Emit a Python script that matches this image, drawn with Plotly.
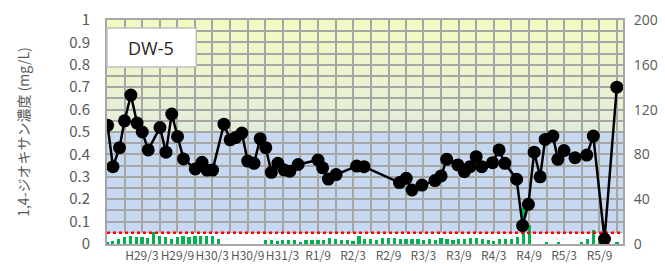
import plotly.graph_objects as go
import pandas as pd

# ---- data ----
conc_dates = [
    "2016-09-04", "2016-10-02", "2016-11-05", "2016-12-01", "2017-01-03", "2017-02-04",
    "2017-03-03", "2017-04-03", "2017-06-03", "2017-07-04", "2017-08-03", "2017-09-02",
    "2017-10-03", "2017-12-03", "2018-01-07", "2018-02-02", "2018-03-03", "2018-05-01",
    "2018-06-02", "2018-07-01", "2018-08-02", "2018-09-01", "2018-10-04", "2018-11-05",
    "2018-12-04", "2019-01-02", "2019-02-05", "2019-03-10", "2019-04-08", "2019-05-21",
    "2019-09-01", "2019-09-25", "2019-10-25", "2019-12-04", "2020-03-20", "2020-04-27",
    "2020-10-28", "2020-12-02", "2021-01-01", "2021-02-22", "2021-04-30", "2021-06-01",
    "2021-06-30", "2021-08-27", "2021-09-30", "2021-10-29", "2021-11-30", "2021-12-29",
    "2022-02-23", "2022-03-29", "2022-04-28", "2022-06-28", "2022-07-29", "2022-08-28",
    "2022-09-27", "2022-10-28", "2022-11-23", "2023-01-02", "2023-01-28", "2023-03-01",
    "2023-04-27", "2023-06-27", "2023-07-31", "2023-09-27", "2023-11-30",
]
conc_values = [
    0.53, 0.345, 0.43, 0.55, 0.665, 0.54,
    0.50, 0.42, 0.52, 0.41, 0.58, 0.48,
    0.38, 0.335, 0.365, 0.33, 0.33, 0.535,
    0.465, 0.475, 0.495, 0.37, 0.36, 0.47,
    0.43, 0.32, 0.36, 0.33, 0.325, 0.355,
    0.375, 0.34, 0.29, 0.31, 0.348, 0.345,
    0.274, 0.293, 0.241, 0.263, 0.283, 0.304,
    0.378, 0.353, 0.323, 0.345, 0.39, 0.345,
    0.363, 0.42, 0.36, 0.289, 0.082, 0.177,
    0.41, 0.30, 0.467, 0.482, 0.378, 0.417,
    0.385, 0.397, 0.482, 0.022, 0.70,
]

bar_start = "2016-09-01"
bar_values = [
    1.8, 2.7, 4.2, 6.3, 7.1, 6.3, 6.3, 5.0, 10.7, 7.1, 6.3, 4.8, 6.3, 7.1, 6.3, 7.1, 7.1, 7.1, 7.1, 4.2,
    None, None, None, None, None, None, None,
    3.3, 3.3, 2.4, 3.3, 3.3, 3.3, 1.2, 3.3, 3.3, 3.3, 3.3, 5.4, 4.2, 3.3, 3.3,
    2.8,
    7.1, 4.8, 4.2, 3.3, 5.4, 5.4, 5.4, 4.2, 4.2, 4.2, 4.2, 3.3, 4.8, 3.3, 5.4, 4.2, 3.3, 4.8, 4.8, 5.4,
    5.2, 4.5, 3.6, 2.7, 4.8, 4.5, 4.5, 6.5, 32, 17,
    None, None, 1.2, None, 1.2, None, None, None, 1.8, 4.5, 12.5, 3, None, None, 1,
]
bar_dates = pd.date_range(bar_start, periods=len(bar_values), freq="MS")

guide_value = 0.05
x_tickvals = ["2017-03-01", "2017-09-01", "2018-03-01", "2018-09-01", "2019-03-01", "2019-09-01",
              "2020-03-01", "2020-09-01", "2021-03-01", "2021-09-01", "2022-03-01", "2022-09-01",
              "2023-03-01", "2023-09-01"]
x_ticktext = ["H29/3", "H29/9", "H30/3", "H30/9", "H31/3", "R1/9", "R2/3", "R2/9",
              "R3/3", "R3/9", "R4/3", "R4/9", "R5/3", "R5/9"]
x_range = ["2016-09-01", "2024-01-01"]

grey = "#595959"
grid = "#A6A6A6"

fig = go.Figure()

# white band under the guide line (covers gridlines, under bars) - right-axis units
fig.add_trace(go.Scatter(
    x=x_range, y=[10, 10], yaxis="y", mode="lines", fill="tozeroy",
    fillcolor="white", line=dict(width=0, color="white"), showlegend=False, hoverinfo="skip",
))

# green bars (right-axis scale, overlay)
fig.add_trace(go.Bar(
    x=bar_dates, y=bar_values, yaxis="y2",
    marker=dict(color="#00B050", line=dict(width=0)),
    width=17 * 86400000, showlegend=False, hoverinfo="skip",
))

# red guide line (left axis)
fig.add_trace(go.Scatter(
    x=x_range, y=[guide_value, guide_value], yaxis="y3", mode="lines",
    line=dict(color="#FF0000", width=2.5, dash="dot"), showlegend=False, hoverinfo="skip",
))

# concentration line
fig.add_trace(go.Scatter(
    x=conc_dates, y=conc_values, yaxis="y3", mode="lines+markers",
    line=dict(color="black", width=2.5),
    marker=dict(color="black", size=13),
    showlegend=False,
))

# background bands, in right-axis units (200 = 1.0 mg/L)
shapes = []
top_c = (0xF3, 0xF9, 0xC3)
bot_c = (0xE2, 0xED, 0xD8)
n = 12
for i in range(n):
    t = i / (n - 1)
    c = tuple(int(round(top_c[k] * (1 - t) + bot_c[k] * t)) for k in range(3))
    y1 = 200 - i * 100 / n
    y0 = 200 - (i + 1) * 100 / n
    shapes.append(dict(type="rect", xref="x", yref="y", x0=x_range[0], x1=x_range[1], y0=y0, y1=y1,
                       fillcolor="rgb(%d,%d,%d)" % c, line=dict(width=0), layer="below"))
shapes.append(dict(type="rect", xref="x", yref="y", x0=x_range[0], x1=x_range[1], y0=10, y1=100,
                   fillcolor="#C6D9F0", line=dict(width=0), layer="below"))
# label box
shapes.append(dict(type="rect", xref="paper", yref="paper", x0=0, x1=0.173, y0=0.79, y1=0.964,
                   fillcolor="white", line=dict(color="#BFBFBF", width=1.5), layer="above"))

fig.update_layout(
    width=665, height=271,
    margin=dict(l=107, r=42, t=20, b=27, pad=0, autoexpand=False),
    paper_bgcolor="white", plot_bgcolor="white",
    bargap=0,
    shapes=shapes,
    xaxis=dict(
        type="date", range=x_range,
        tickmode="array", tickvals=x_tickvals, ticktext=x_ticktext, tickangle=0,
        tickfont=dict(family="Noto Sans CJK JP", size=12, color=grey),
        ticks="", showgrid=True, gridcolor=grid, gridwidth=1.5,
        minor=dict(dtick="M3", tick0="2016-09-01", showgrid=True, gridcolor=grid, gridwidth=1.5, ticks=""),
        showline=True, linecolor="#A6A6A6", linewidth=2, mirror=True,
        zeroline=False,
    ),
    yaxis=dict(
        side="right", range=[0, 200], tickmode="linear", tick0=0, dtick=40,
        tickfont=dict(family="Open Sans", size=14, color=grey),
        showgrid=True, gridcolor=grid, gridwidth=1.5,
        minor=dict(dtick=10, showgrid=True, gridcolor=grid, gridwidth=1.5, ticks=""),
        ticks="", ticklabelstandoff=6,
        showline=True, linecolor="#A6A6A6", linewidth=2, mirror=True, zeroline=False,
    ),
    yaxis2=dict(
        overlaying="y", range=[0, 200], visible=False, showgrid=False, zeroline=False,
    ),
    yaxis3=dict(
        overlaying="y", side="left", range=[0, 1], tickmode="linear", tick0=0, dtick=0.1,
        tickfont=dict(family="Noto Sans CJK JP", size=15, color=grey),
        showgrid=False, zeroline=False, ticks="", ticklabelstandoff=12,
        showline=True, linecolor="#A6A6A6", linewidth=2,
        title=dict(text="1,4-ジオキサン濃度 (mg/L)", standoff=36,
                   font=dict(family="Noto Sans CJK JP", size=14, color=grey)),
    ),
    annotations=[
        dict(text="DW-5", xref="paper", yref="paper", x=0.086, y=0.877,
             xanchor="center", yanchor="middle", showarrow=False,
             font=dict(family="Open Sans", size=18, color="#262626")),
    ],
)

fig.write_html("out.html", config={"displayModeBar": False},
               post_script="document.body.style.margin='0';")
